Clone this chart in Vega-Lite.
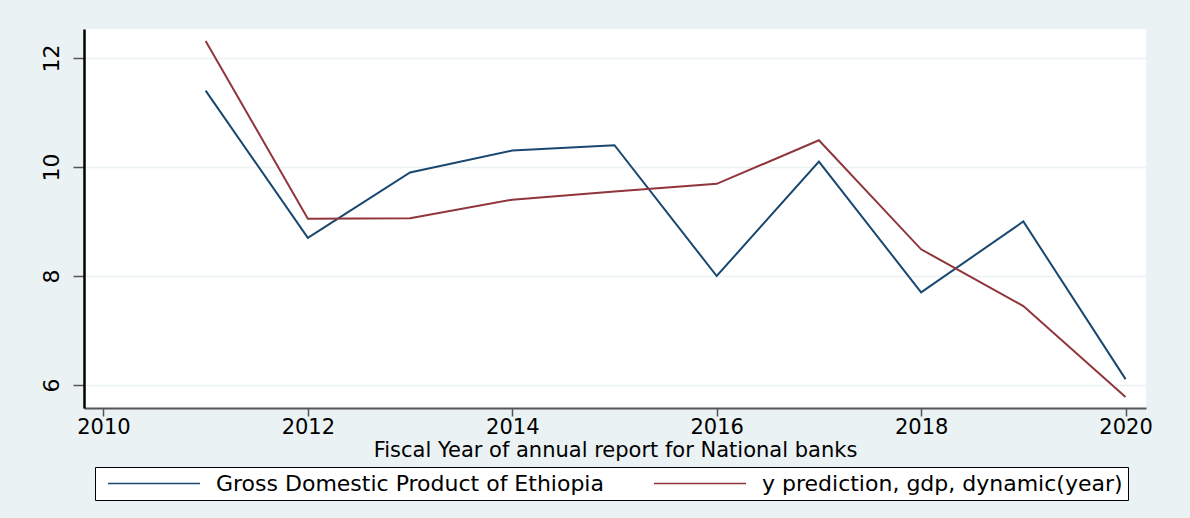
{
  "$schema": "https://vega.github.io/schema/vega-lite/v6.json",
  "width": 1062,
  "height": 379,
  "autosize": {"type": "none"},
  "padding": {"left": 84, "top": 29, "right": 44, "bottom": 110},
  "background": "#EAF2F3",
  "config": {
    "view": {"fill": "white", "stroke": null},
    "font": "DejaVu Sans"
  },
  "data": {
    "values": [
      {"year": 2011, "series": "Gross Domestic Product of Ethiopia", "value": 11.40},
      {"year": 2012, "series": "Gross Domestic Product of Ethiopia", "value": 8.70},
      {"year": 2013, "series": "Gross Domestic Product of Ethiopia", "value": 9.90},
      {"year": 2014, "series": "Gross Domestic Product of Ethiopia", "value": 10.30},
      {"year": 2015, "series": "Gross Domestic Product of Ethiopia", "value": 10.40},
      {"year": 2016, "series": "Gross Domestic Product of Ethiopia", "value": 8.00},
      {"year": 2017, "series": "Gross Domestic Product of Ethiopia", "value": 10.10},
      {"year": 2018, "series": "Gross Domestic Product of Ethiopia", "value": 7.70},
      {"year": 2019, "series": "Gross Domestic Product of Ethiopia", "value": 9.00},
      {"year": 2020, "series": "Gross Domestic Product of Ethiopia", "value": 6.11},
      {"year": 2011, "series": "y prediction, gdp, dynamic(year)", "value": 12.31},
      {"year": 2012, "series": "y prediction, gdp, dynamic(year)", "value": 9.05},
      {"year": 2013, "series": "y prediction, gdp, dynamic(year)", "value": 9.06},
      {"year": 2014, "series": "y prediction, gdp, dynamic(year)", "value": 9.40},
      {"year": 2015, "series": "y prediction, gdp, dynamic(year)", "value": 9.55},
      {"year": 2016, "series": "y prediction, gdp, dynamic(year)", "value": 9.69},
      {"year": 2017, "series": "y prediction, gdp, dynamic(year)", "value": 10.49},
      {"year": 2018, "series": "y prediction, gdp, dynamic(year)", "value": 8.49},
      {"year": 2019, "series": "y prediction, gdp, dynamic(year)", "value": 7.45},
      {"year": 2020, "series": "y prediction, gdp, dynamic(year)", "value": 5.78}
    ]
  },
  "mark": {"type": "line", "strokeWidth": 2},
  "encoding": {
    "x": {
      "field": "year",
      "type": "quantitative",
      "title": "Fiscal Year of annual report for National banks",
      "scale": {"domain": [2009.81, 2020.2], "nice": false, "zero": false},
      "axis": {
        "values": [2010, 2012, 2014, 2016, 2018, 2020],
        "format": "d",
        "grid": false,
        "domainColor": "#555555",
        "domainWidth": 2,
        "tickColor": "#555555",
        "tickWidth": 1.5,
        "tickSize": 8,
        "labelFontSize": 21,
        "labelColor": "black",
        "labelPadding": 0,
        "labelFlush": false,
        "titleFontSize": 21,
        "titleFontWeight": "normal",
        "titleColor": "black",
        "titlePadding": 2
      }
    },
    "y": {
      "field": "value",
      "type": "quantitative",
      "title": null,
      "scale": {"domain": [5.58, 12.53], "nice": false, "zero": false},
      "axis": {
        "values": [6, 8, 10, 12],
        "grid": true,
        "gridColor": "#EAF2F3",
        "gridWidth": 1.5,
        "domainColor": "black",
        "domainWidth": 2.5,
        "tickColor": "#555555",
        "tickWidth": 1.5,
        "tickSize": 11,
        "labelAngle": -90,
        "labelFontSize": 22,
        "labelColor": "black",
        "labelPadding": 10
      }
    },
    "color": {
      "field": "series",
      "type": "nominal",
      "scale": {
        "domain": ["Gross Domestic Product of Ethiopia", "y prediction, gdp, dynamic(year)"],
        "range": ["#1a476f", "#90353b"]
      },
      "legend": {
        "title": null,
        "orient": "none",
        "legendX": 11,
        "legendY": 438,
        "direction": "horizontal",
        "symbolType": "stroke",
        "symbolSize": 8464,
        "symbolStrokeWidth": 1.5,
        "clipHeight": 23,
        "labelFontSize": 22,
        "labelColor": "black",
        "labelOffset": 15,
        "labelLimit": 0,
        "columnPadding": 42,
        "padding": 5,
        "symbolOffset": 7,
        "strokeColor": "black",
        "fillColor": "white"
      }
    }
  }
}
